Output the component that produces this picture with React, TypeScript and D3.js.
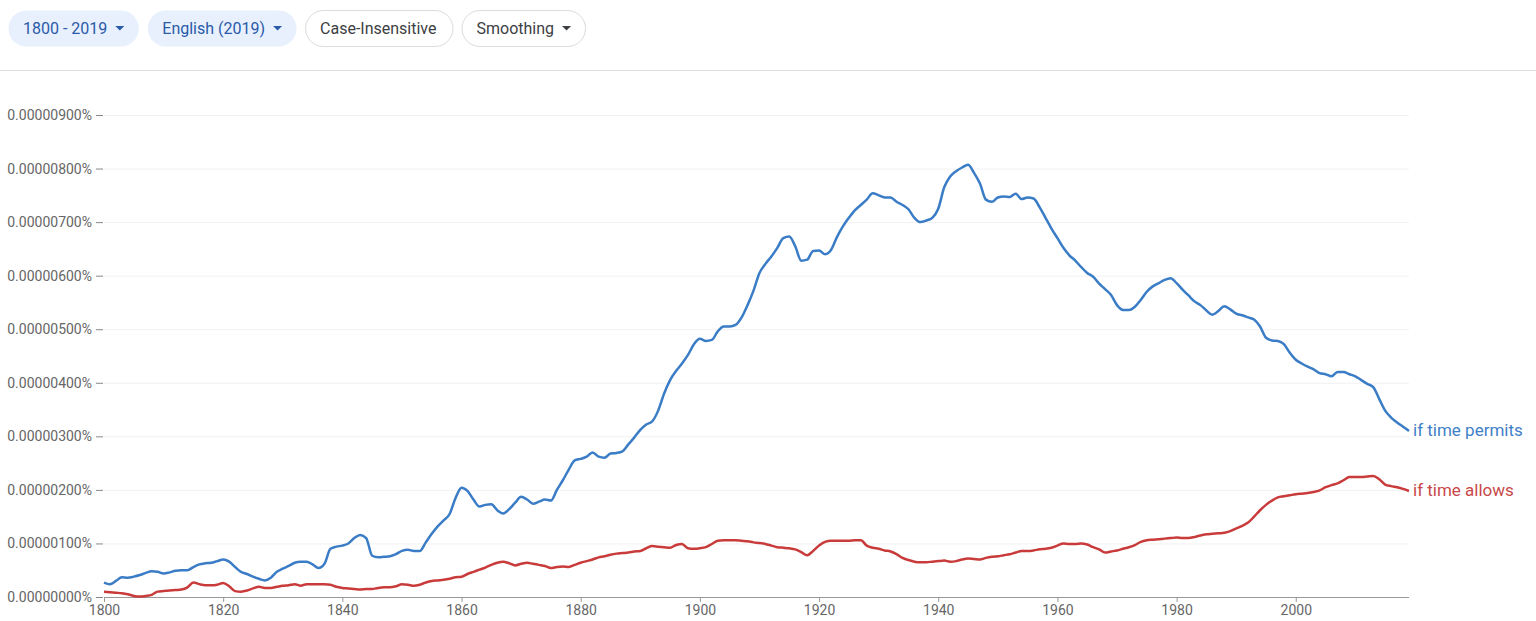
import React, { useEffect, useRef } from 'react';
import * as d3 from 'd3';

// values in units of 0.000001 %
const startYear = 1800;
const endYear = 2019;

const permitsValues = [
  0.27, 0.24, 0.3, 0.37, 0.36, 0.38, 0.41, 0.45, 0.48, 0.47,
  0.44, 0.46, 0.49, 0.5, 0.5, 0.56, 0.61, 0.63, 0.64, 0.67,
  0.7, 0.66, 0.56, 0.47, 0.43, 0.38, 0.34, 0.31, 0.36, 0.47,
  0.53, 0.58, 0.64, 0.66, 0.66, 0.61, 0.54, 0.62, 0.9, 0.94,
  0.96, 1.0, 1.1, 1.16, 1.1, 0.77, 0.74, 0.75, 0.76, 0.8,
  0.86, 0.88, 0.86, 0.86, 1.02, 1.18, 1.32, 1.43, 1.55, 1.85,
  2.04, 1.98, 1.82, 1.69, 1.72, 1.73, 1.62, 1.56, 1.64, 1.76,
  1.87, 1.82, 1.74, 1.78, 1.82, 1.8, 2.0, 2.18, 2.38, 2.55,
  2.58, 2.62, 2.7, 2.62, 2.6, 2.68, 2.69, 2.72, 2.85, 2.98,
  3.12, 3.22, 3.28, 3.48, 3.8, 4.05, 4.22, 4.36, 4.52, 4.72,
  4.82, 4.78, 4.8, 4.96, 5.05, 5.05, 5.08, 5.22, 5.45, 5.72,
  6.05, 6.22, 6.36, 6.52, 6.7, 6.73, 6.55, 6.28, 6.3, 6.46,
  6.47, 6.4, 6.48, 6.72, 6.92, 7.08, 7.22, 7.32, 7.42, 7.54,
  7.5, 7.46, 7.46, 7.38, 7.32, 7.24, 7.08, 7.0, 7.03, 7.08,
  7.25, 7.65, 7.85, 7.95, 8.02, 8.07, 7.92, 7.72, 7.42, 7.38,
  7.46, 7.48, 7.47, 7.53, 7.43, 7.46, 7.44, 7.28, 7.08, 6.88,
  6.7, 6.52, 6.38, 6.28, 6.16, 6.05, 5.98, 5.85, 5.75, 5.64,
  5.45, 5.36, 5.36, 5.42, 5.55, 5.7, 5.8, 5.86, 5.92, 5.95,
  5.86, 5.74, 5.63, 5.52, 5.45, 5.35, 5.27, 5.34, 5.43, 5.37,
  5.29, 5.26, 5.22, 5.18, 5.05, 4.84, 4.79, 4.78, 4.72, 4.56,
  4.43, 4.36, 4.3, 4.25, 4.18, 4.16, 4.12, 4.2, 4.2, 4.16,
  4.12, 4.05, 3.98, 3.92, 3.7, 3.48, 3.35, 3.26, 3.18, 3.1,
];

const allowsValues = [
  0.1, 0.09, 0.08, 0.07, 0.05, 0.02, 0.01, 0.02, 0.04, 0.1,
  0.11, 0.12, 0.13, 0.14, 0.18, 0.27, 0.24, 0.22, 0.22, 0.23,
  0.26, 0.2, 0.11, 0.1, 0.12, 0.16, 0.19, 0.17, 0.17, 0.19,
  0.21, 0.22, 0.24, 0.21, 0.24, 0.24, 0.24, 0.24, 0.23, 0.19,
  0.17, 0.16, 0.15, 0.14, 0.15, 0.15, 0.17, 0.18, 0.18, 0.2,
  0.24, 0.23, 0.21, 0.23, 0.27, 0.3, 0.31, 0.32, 0.34, 0.37,
  0.38, 0.43, 0.47, 0.51, 0.55, 0.6, 0.64, 0.66, 0.63, 0.59,
  0.62, 0.64, 0.62, 0.6, 0.58, 0.54, 0.56, 0.57, 0.56, 0.6,
  0.64, 0.67, 0.7, 0.74, 0.76, 0.79, 0.81, 0.82, 0.83, 0.85,
  0.86, 0.91, 0.95, 0.94, 0.93, 0.92, 0.97, 0.99, 0.91, 0.9,
  0.91, 0.93, 0.99, 1.05, 1.06, 1.06, 1.06, 1.05, 1.04, 1.02,
  1.01, 0.99, 0.96, 0.93, 0.92, 0.91, 0.89, 0.84, 0.78, 0.86,
  0.96, 1.03, 1.05, 1.05, 1.05, 1.05, 1.06, 1.06, 0.96, 0.92,
  0.9, 0.87, 0.85, 0.8, 0.73, 0.69, 0.66, 0.65, 0.65, 0.66,
  0.67, 0.68, 0.66, 0.67, 0.7, 0.72, 0.71, 0.7, 0.73, 0.75,
  0.76, 0.78, 0.8, 0.83, 0.86, 0.86, 0.87, 0.89, 0.9, 0.92,
  0.96, 1.0, 0.99, 0.99, 1.0, 0.98, 0.93, 0.89, 0.83, 0.85,
  0.87, 0.9, 0.93, 0.97, 1.03, 1.06, 1.07, 1.08, 1.09, 1.1,
  1.11, 1.1, 1.1, 1.12, 1.15, 1.17, 1.18, 1.19, 1.2, 1.23,
  1.28, 1.33, 1.39, 1.5, 1.62, 1.72, 1.8, 1.86, 1.88, 1.9,
  1.92, 1.93, 1.94, 1.96, 1.99, 2.05, 2.09, 2.12, 2.18, 2.24,
  2.24, 2.24, 2.25, 2.26, 2.2, 2.1, 2.07, 2.05, 2.02, 1.98,
];

const seriesNames = ['if time permits', 'if time allows'];
const seriesColors = ['#3a7cc6', '#c93b3b'];
const labelColors = ['#3f7fc8', '#c84848'];

const yTicks = [0, 1, 2, 3, 4, 5, 6, 7, 8, 9];
const xTicks = [1800, 1820, 1840, 1860, 1880, 1900, 1920, 1940, 1960, 1980, 2000];

const chips = [
  { label: '1800 - 2019', dropdown: true, filled: true },
  { label: 'English (2019)', dropdown: true, filled: true },
  { label: 'Case-Insensitive', dropdown: false, filled: false },
  { label: 'Smoothing', dropdown: true, filled: false },
];

const W = 1536;
const H = 621;
const FONT = 'Roboto, "Noto Sans", Arial, sans-serif';

const App = () => {
  const svgRef = useRef<SVGSVGElement>(null);

  useEffect(() => {
    const svg = d3.select(svgRef.current);
    svg.selectAll('*').remove();

    const margin = { top: 115, right: 127, bottom: 24, left: 104 };

    const x = d3.scaleLinear().domain([startYear, endYear]).range([margin.left, W - margin.right]);
    const y = d3.scaleLinear().domain([0, 9]).range([H - margin.bottom, margin.top]);

    // chips on top
    const chipG = svg.append('g');
    let cx = 8;
    chips.forEach(c => {
      const g = chipG.append('g').attr('transform', `translate(${cx},10)`);
      const txt = g
        .append('text')
        .attr('x', 15)
        .attr('y', 23.5)
        .attr('font-family', FONT)
        .attr('font-size', 16)
        .attr('fill', c.filled ? '#2a5aa8' : '#3c4043')
        .text(c.label);
      const tw = (txt.node() as SVGTextElement).getComputedTextLength();
      const w = tw + (c.dropdown ? 46 : 31);
      g.insert('rect', 'text')
        .attr('x', 0.5)
        .attr('y', 0.5)
        .attr('width', w)
        .attr('height', 36)
        .attr('rx', 18)
        .attr('fill', c.filled ? '#e8f0fe' : '#fff')
        .attr('stroke', c.filled ? 'none' : '#dadce0');
      if (c.dropdown) {
        const ax = 15 + tw + 8;
        g.append('path')
          .attr('d', `M${ax},16 l9,0 l-4.5,4.5 z`)
          .attr('fill', c.filled ? '#2a5aa8' : '#3c4043');
      }
      cx += w + 9;
    });

    svg
      .append('line')
      .attr('x1', 0)
      .attr('x2', W)
      .attr('y1', 70.5)
      .attr('y2', 70.5)
      .attr('stroke', '#dedede');

    // gridlines
    svg
      .append('g')
      .selectAll('line')
      .data(yTicks.slice(1))
      .enter()
      .append('line')
      .attr('x1', x(startYear))
      .attr('x2', x(endYear))
      .attr('y1', d => y(d) + 0.5)
      .attr('y2', d => y(d) + 0.5)
      .attr('stroke', '#f1f1f1');

    // y axis labels
    const yAxis = svg
      .append('g')
      .attr('transform', `translate(${margin.left},0)`)
      .call(
        d3
          .axisLeft(y)
          .tickValues(yTicks)
          .tickSize(7)
          .tickPadding(5)
          .tickFormat(d => (Number(d) * 1e-6).toFixed(8) + '%')
      );
    yAxis.select('.domain').remove();
    yAxis.selectAll('line').attr('stroke', '#888').attr('transform', 'translate(-1,0)');
    yAxis.selectAll('text').attr('font-family', FONT).attr('font-size', 14).attr('fill', '#666');

    // x axis
    const xAxis = svg
      .append('g')
      .attr('transform', `translate(0,${y(0)})`)
      .call(
        d3
          .axisBottom(x)
          .tickValues(xTicks)
          .tickSize(5)
          .tickPadding(3)
          .tickFormat(d3.format('d'))
      );
    xAxis.select('.domain').attr('stroke', '#999').attr('d', `M${x(startYear)},0.5H${x(endYear)}`);
    xAxis.selectAll('line').attr('stroke', '#999');
    xAxis.selectAll('text').attr('font-family', FONT).attr('font-size', 14).attr('fill', '#666');

    const years = d3.range(startYear, endYear + 1);
    const line = d3
      .line<number>()
      .x((_, i) => x(years[i]))
      .y(d => y(d))
      .curve(d3.curveMonotoneX);

    [permitsValues, allowsValues].forEach((vals, i) => {
      svg
        .append('path')
        .attr('d', line(vals))
        .attr('fill', 'none')
        .attr('stroke', seriesColors[i])
        .attr('stroke-width', 2.5)
        .attr('stroke-linejoin', 'round');
      svg
        .append('text')
        .attr('x', x(endYear) + 4)
        .attr('y', y(vals[vals.length - 1]) + 5)
        .attr('font-family', FONT)
        .attr('font-size', 17)
        .attr('fill', labelColors[i])
        .text(seriesNames[i]);
    });

    return () => {
      svg.selectAll('*').remove();
    };
  }, []);

  return (
    <svg
      ref={svgRef}
      width={W}
      height={H}
      style={{ position: 'absolute', left: 0, top: 0, background: '#fff' }}
    />
  );
};

export default App;
